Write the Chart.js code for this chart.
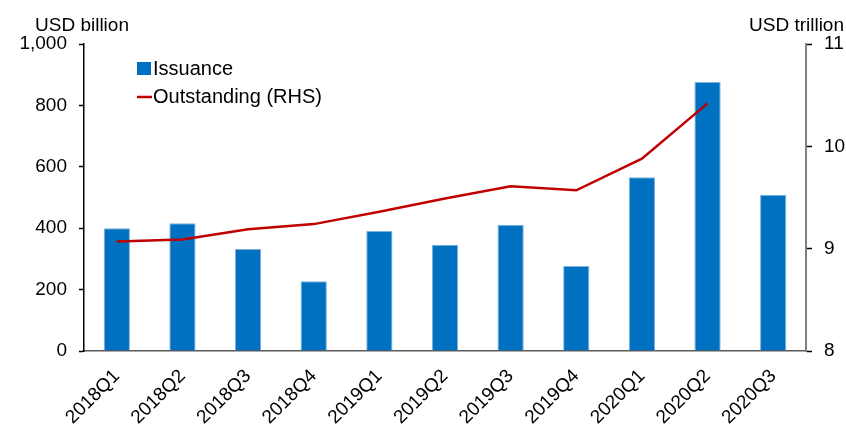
<!DOCTYPE html>
<html>
<head>
<meta charset="utf-8">
<script src="https://cdn.jsdelivr.net/npm/chart.js@4.4.1/dist/chart.umd.min.js"></script>
<style>
  html, body { margin: 0; padding: 0; background: #fff; }
  #wrap { width: 846px; height: 426px; position: relative; }
</style>
</head>
<body>
<div id="wrap"><canvas id="c" width="846" height="426"></canvas></div>
<script>
// Quarterly issuance (USD billion, left axis) and amount outstanding (USD trillion, right axis)
const quarters = ['2018Q1','2018Q2','2018Q3','2018Q4','2019Q1','2019Q2','2019Q3','2019Q4','2020Q1','2020Q2','2020Q3'];
const issuance = [400, 416, 332, 227, 391, 346, 411, 277, 566, 876, 509];
const outstanding = [9.07, 9.09, 9.19, 9.24, 9.36, 9.49, 9.61, 9.57, 9.88, 10.42, null];
const leftTicks = [0, 200, 400, 600, 800, 1000];
const rightTicks = [8, 9, 10, 11];

const FONT = '"Liberation Sans", Arial, sans-serif';
const BLUE = '#0070C0';
const RED = '#C00000';

// Axis unit captions and the in-plot legend
const decorations = {
  id: 'decorations',
  afterDraw(chart) {
    const ctx = chart.ctx;
    ctx.save();
    ctx.fillStyle = '#000';
    ctx.textBaseline = 'alphabetic';
    ctx.font = '19px ' + FONT;
    ctx.textAlign = 'left';
    ctx.fillText('USD billion', 35, 31);
    ctx.textAlign = 'right';
    ctx.fillText('USD trillion', 844, 31);

    // legend
    const ds = chart.data.datasets;
    ctx.textAlign = 'left';
    ctx.textBaseline = 'middle';
    ctx.font = '20px ' + FONT;
    ctx.fillStyle = ds[0].backgroundColor;
    ctx.fillRect(137, 62, 14, 13);
    ctx.fillStyle = '#000';
    ctx.fillText(ds[0].label, 153, 69);
    ctx.strokeStyle = ds[1].borderColor;
    ctx.lineWidth = 2.5;
    ctx.beginPath();
    ctx.moveTo(137, 97);
    ctx.lineTo(152, 97);
    ctx.stroke();
    ctx.fillText(ds[1].label, 153, 97);
    ctx.restore();
  }
};

new Chart(document.getElementById('c'), {
  type: 'bar',
  data: {
    labels: quarters,
    datasets: [
      {
        label: 'Issuance',
        data: issuance,
        yAxisID: 'y',
        backgroundColor: BLUE,
        borderColor: '#7FB2DE',
        borderWidth: { top: 1, left: 1, right: 1, bottom: 0 },
        categoryPercentage: 1.0,
        barPercentage: 0.4,
        order: 2
      },
      {
        label: 'Outstanding (RHS)',
        type: 'line',
        data: outstanding,
        yAxisID: 'y2',
        borderColor: RED,
        backgroundColor: RED,
        borderWidth: 2.5,
        pointRadius: 0,
        tension: 0,
        fill: false,
        order: 1
      }
    ]
  },
  options: {
    responsive: false,
    animation: false,
    events: [],
    layout: { padding: { top: 44, left: 0, right: 0, bottom: 0 } },
    plugins: { legend: { display: false }, tooltip: { enabled: false } },
    scales: {
      x: {
        offset: true,
        grid: { display: false, drawTicks: false },
        border: { display: true, color: '#595959', width: 1.5 },
        ticks: {
          color: '#000',
          font: { family: FONT, size: 19 },
          minRotation: 45,
          maxRotation: 45,
          padding: 14,
          autoSkip: false
        },
        afterFit(s) { s.height = 75; }
      },
      y: {
        position: 'left',
        min: 0,
        max: 1000,
        afterBuildTicks(s) { s.ticks = leftTicks.map(v => ({ value: v })); },
        grid: { drawOnChartArea: false, drawTicks: true, tickLength: 5, tickColor: '#000', tickWidth: 1.5 },
        border: { display: true, color: '#000', width: 1.5 },
        ticks: {
          color: '#000',
          font: { family: FONT, size: 19 },
          padding: 12,
          callback: v => v.toLocaleString('en-US')
        },
        afterFit(s) { s.width = 84; }
      },
      y2: {
        position: 'right',
        min: 8,
        max: 11,
        afterBuildTicks(s) { s.ticks = rightTicks.map(v => ({ value: v })); },
        grid: { drawOnChartArea: false, drawTicks: true, tickLength: 6, tickColor: '#000', tickWidth: 1.5 },
        border: { display: true, color: '#808080', width: 2 },
        ticks: {
          color: '#000',
          font: { family: FONT, size: 19 },
          padding: 12
        },
        afterFit(s) { s.width = 40; }
      }
    }
  },
  plugins: [decorations]
});
</script>
</body>
</html>
